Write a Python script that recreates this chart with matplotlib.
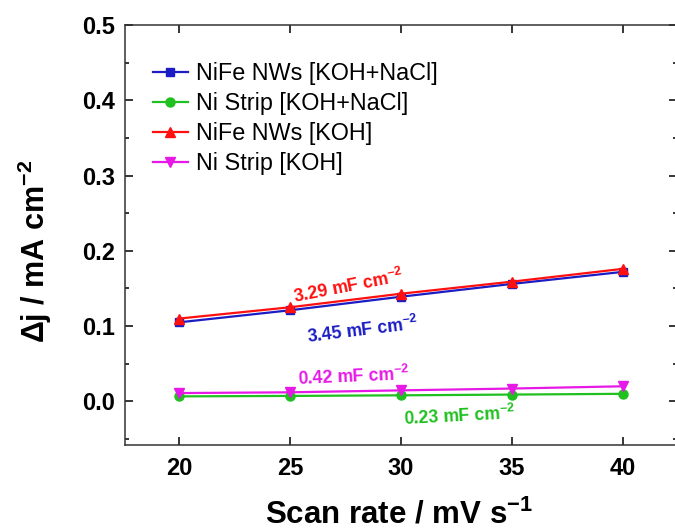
import matplotlib
matplotlib.use("Agg")
import matplotlib.pyplot as plt
from matplotlib.ticker import MultipleLocator

plt.rcParams['font.family'] = ['Liberation Sans', 'DejaVu Sans']
plt.rcParams['mathtext.default'] = 'regular'

scan_rate = [20, 25, 30, 35, 40]
nife_kohnacl = [0.105, 0.121, 0.139, 0.156, 0.172]
ni_kohnacl = [0.0066, 0.0072, 0.0080, 0.0090, 0.0100]
nife_koh = [0.110, 0.125, 0.143, 0.159, 0.176]
ni_koh = [0.011, 0.012, 0.0146, 0.017, 0.020]

labels = ["NiFe NWs [KOH+NaCl]", "Ni Strip [KOH+NaCl]", "NiFe NWs [KOH]", "Ni Strip [KOH]"]
capacitances = ["3.45", "0.23", "3.29", "0.42"]

c_blue = '#1c1cc4'
c_green = '#1fc01f'
c_red = '#ff1010'
c_mag = '#e619e6'

fig = plt.figure(figsize=(6.75, 5.31), dpi=100)
ax = fig.add_axes([125/675, 86/531, 552/675, 420/531])

ax.plot(scan_rate, nife_kohnacl, '-s', color=c_blue, lw=1.6, ms=6, label=labels[0])
ax.plot(scan_rate, ni_kohnacl, '-o', color=c_green, lw=1.6, ms=6.5, label=labels[1])
ax.plot(scan_rate, nife_koh, '-^', color=c_red, lw=1.6, ms=7, label=labels[2])
ax.plot(scan_rate, ni_koh, '-v', color=c_mag, lw=1.6, ms=7, label=labels[3])

ax.set_xlim(17.55, 42.45)
ax.set_ylim(-0.058, 0.5)
ax.xaxis.set_major_locator(MultipleLocator(5))
ax.yaxis.set_major_locator(MultipleLocator(0.1))
ax.yaxis.set_minor_locator(MultipleLocator(0.05))
ax.yaxis.set_major_formatter(matplotlib.ticker.FormatStrFormatter('%.1f'))
ax.tick_params(which='both', direction='in', top=True, right=True, width=1.1)
ax.tick_params(which='major', length=6, labelsize=17)
ax.tick_params(axis='y', which='major', pad=7)
ax.tick_params(axis='x', which='major', pad=8.5)
ax.tick_params(which='minor', length=3)
for lab in ax.get_xticklabels() + ax.get_yticklabels():
    lab.set_fontweight('bold')
for s in ax.spines.values():
    s.set_linewidth(1.1)
    s.set_color('#333333')

ax.set_xlabel('Scan rate / mV s$^{-1}$', fontsize=22.5, fontweight='bold')
ax.set_ylabel('Δj / mA cm$^{-2}$', fontsize=22, fontweight='bold')
ax.xaxis.set_label_coords(0.497, -0.13)
ax.yaxis.set_label_coords(-0.128, 0.46)

leg = ax.legend(loc='upper left', bbox_to_anchor=(0.025, 0.945), frameon=False,
                fontsize=16.8, handlelength=1.5, handletextpad=0.35,
                labelspacing=0.3, borderaxespad=0.2)

ann_kw = dict(fontsize=12.7, fontweight='bold', ha='center', va='center')
ax.text(27.63, 0.1525, capacitances[2] + ' mF cm$^{-2}$', color=c_red, rotation=11, **ann_kw)
ax.text(28.26, 0.094, capacitances[0] + ' mF cm$^{-2}$', color=c_blue, rotation=7, **ann_kw)
ax.text(27.86, 0.033, capacitances[3] + ' mF cm$^{-2}$', color=c_mag, rotation=2.5, **ann_kw)
ax.text(32.64, -0.020, capacitances[1] + ' mF cm$^{-2}$', color=c_green, rotation=3, **ann_kw)

fig.savefig('out.png', dpi=100)
